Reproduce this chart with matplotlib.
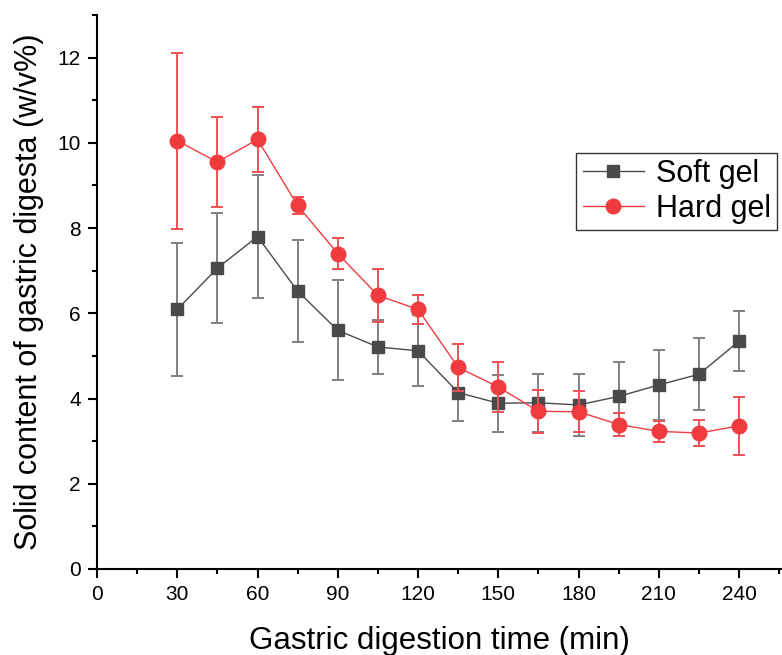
import matplotlib
matplotlib.use('Agg')
import matplotlib.pyplot as plt
from matplotlib.ticker import MultipleLocator

plt.rcParams['font.family'] = ['Liberation Sans', 'DejaVu Sans']

time_min = [30, 45, 60, 75, 90, 105, 120, 135, 150, 165, 180, 195, 210, 225, 240]

soft_gel = [6.09, 7.06, 7.80, 6.52, 5.60, 5.21, 5.12, 4.14, 3.89, 3.90, 3.85, 4.05, 4.32, 4.57, 5.35]
soft_err = [1.55, 1.29, 1.45, 1.20, 1.17, 0.63, 0.83, 0.66, 0.67, 0.68, 0.73, 0.80, 0.83, 0.84, 0.70]

hard_gel = [10.05, 9.55, 10.08, 8.53, 7.40, 6.42, 6.09, 4.73, 4.27, 3.70, 3.69, 3.39, 3.23, 3.19, 3.36]
hard_err = [2.06, 1.05, 0.76, 0.20, 0.37, 0.63, 0.33, 0.56, 0.58, 0.50, 0.48, 0.26, 0.25, 0.31, 0.68]

fig = plt.figure(figsize=(7.82, 6.55), dpi=100)
ax = fig.add_axes([0.124, 0.1313, 0.876, 0.8458])

soft = ax.errorbar(time_min, soft_gel, yerr=soft_err, color='#4a4a4a', ecolor='#808080',
                   elinewidth=1.4, capsize=4.5, capthick=1.4, lw=1.0, marker='s',
                   markersize=9, markeredgecolor='#4a4a4a', label='Soft gel', zorder=3)
hard = ax.errorbar(time_min, hard_gel, yerr=hard_err, color='#f03c3f', ecolor='#f05055',
                   elinewidth=1.4, capsize=4.5, capthick=1.4, lw=1.0, marker='o',
                   markersize=10.5, markeredgecolor='#f03c3f', label='Hard gel', zorder=4)

ax.set_xlim(0, 256)
ax.set_ylim(0, 13)
ax.xaxis.set_major_locator(MultipleLocator(30))
ax.xaxis.set_minor_locator(MultipleLocator(15))
ax.yaxis.set_major_locator(MultipleLocator(2))
ax.yaxis.set_minor_locator(MultipleLocator(1))

for side in ['top', 'right']:
    ax.spines[side].set_visible(False)
for side in ['left', 'bottom']:
    ax.spines[side].set_linewidth(1.5)

ax.tick_params(which='major', direction='out', length=6.5, width=1.5, labelsize=15, pad=5)
ax.tick_params(which='minor', direction='out', length=3.5, width=1.5)

ax.set_xlabel('Gastric digestion time (min)', fontsize=22.5, labelpad=16)
ax.set_ylabel('Solid content of gastric digesta (w/v%)', fontsize=22, labelpad=10)

leg = ax.legend([soft[0], hard[0]], ['Soft gel', 'Hard gel'],
                loc='upper left', bbox_to_anchor=(0.70, 0.751), borderaxespad=0,
                fontsize=22, frameon=True, fancybox=False, edgecolor='black',
                handlelength=2.0, handletextpad=0.4, borderpad=0.2, labelspacing=0.15)
leg.get_frame().set_linewidth(1.0)

fig.savefig('out.png', dpi=100)
